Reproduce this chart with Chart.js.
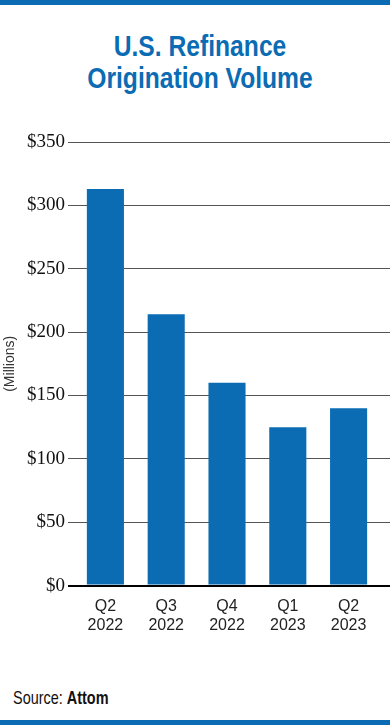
<!DOCTYPE html>
<html>
<head>
<meta charset="utf-8">
<script src="https://cdn.jsdelivr.net/npm/chart.js@4"></script>
<style>
  body { margin: 0; width: 390px; height: 725px; background: #fff; position: relative; overflow: hidden; }
  #top_bar, #bottom_bar { position: absolute; left: 0; width: 390px; background: #0b6cb4; }
  #top_bar { top: 0; height: 5px; }
  #bottom_bar { bottom: 0; height: 5px; }
  #title {
    position: absolute; top: 30px; left: 10px; width: 380px; text-align: center;
    font-family: "Liberation Sans", sans-serif; font-weight: bold;
    font-size: 29px; line-height: 32px; color: #0b6cb4;
    transform: scaleX(0.85); transform-origin: 190px 0;
  }
  #chart_box { position: absolute; left: 0; top: 120px; width: 390px; height: 530px; }
  #source {
    position: absolute; left: 13px; top: 687px; white-space: nowrap;
    font-family: "Liberation Sans", sans-serif; font-size: 19px; color: #111;
    transform: scaleX(0.76); transform-origin: 0 0;
  }
</style>
</head>
<body>
<div id="top_bar"></div>
<div id="title">U.S. Refinance<br>Origination Volume</div>
<div id="chart_box"><canvas id="chart"></canvas></div>
<div id="source">Source: <b>Attom</b></div>
<div id="bottom_bar"></div>
<script>
let quarters = [['Q2', '2022'], ['Q3', '2022'], ['Q4', '2022'], ['Q1', '2023'], ['Q2', '2023']];
let volume = [313, 214, 160, 125, 140];
let yTicks = [0, 50, 100, 150, 200, 250, 300, 350];

// grid lines run on past the last bar to the page edge
let extendGrid = {
    id: 'extendGrid',
    beforeDatasetsDraw(chart) {
        let ctx = chart.ctx;
        let y = chart.scales.y;
        ctx.save();
        for (let v of yTicks) {
            let w = v == 0 ? 2 : 1;
            // same pixel snapping chart.js uses for its own grid
            let py = Math.round(y.getPixelForValue(v) - w / 2) + w / 2;
            ctx.beginPath();
            ctx.lineWidth = w;
            ctx.strokeStyle = v == 0 ? '#000' : '#555';
            ctx.moveTo(chart.chartArea.right - 2, py);
            ctx.lineTo(chart.width, py);
            ctx.stroke();
        }
        ctx.restore();
    }
};

let canvas = document.getElementById('chart');
let chart = new Chart(canvas, {
    type: 'bar',
    data: {
        labels: quarters,
        datasets: [{
            data: volume,
            backgroundColor: '#0b6cb4',
            categoryPercentage: 1,
            barPercentage: 0.61
        }]
    },
    options: {
        responsive: true,
        maintainAspectRatio: false,
        animation: false,
        layout: { padding: { top: 22, right: 11, bottom: 4, left: 0 } },
        plugins: { legend: { display: false }, tooltip: { enabled: false } },
        scales: {
            x: {
                grid: { display: false, drawTicks: false },
                border: { display: false },
                ticks: {
                    padding: 11,
                    color: '#222',
                    font: { family: '"Liberation Sans", sans-serif', size: 16, lineHeight: 1.2 }
                }
            },
            y: {
                min: 0,
                max: 350,
                afterFit: (scale) => { scale.width = 75; },
                afterBuildTicks: (scale) => { scale.ticks = yTicks.map(v => ({ value: v })); },
                border: { display: false },
                grid: {
                    color: (c) => c.tick && c.tick.value == 0 ? '#000' : '#555',
                    lineWidth: (c) => c.tick && c.tick.value == 0 ? 2 : 1,
                    tickLength: 7
                },
                ticks: {
                    padding: 3,
                    color: '#111',
                    font: { family: '"Liberation Serif", serif', size: 19 },
                    callback: (v) => '$' + v
                },
                title: {
                    display: true,
                    text: '(Millions)',
                    color: '#333',
                    padding: { top: 2, bottom: 0 },
                    font: { family: '"Liberation Sans", sans-serif', size: 14 }
                }
            }
        }
    },
    plugins: [extendGrid]
});
</script>
</body>
</html>
